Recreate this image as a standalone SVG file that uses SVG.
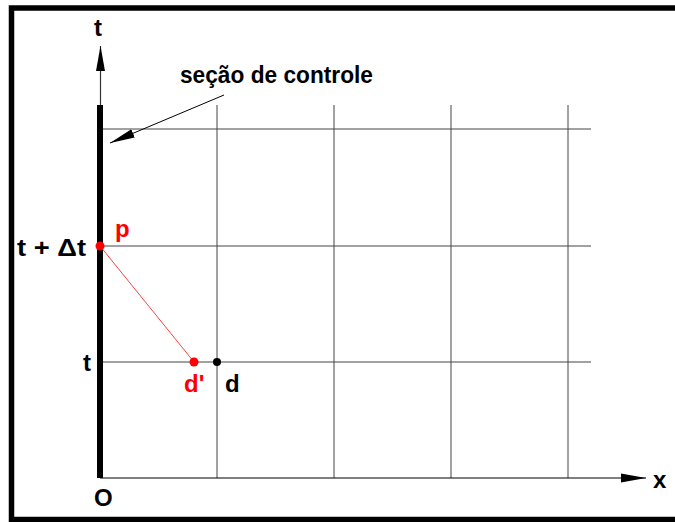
<svg xmlns="http://www.w3.org/2000/svg" width="675" height="522" viewBox="0 0 675 522">
<style>
.grid{stroke:#444;stroke-width:1;fill:none}
.lbl{font-family:"Liberation Sans",Arial,sans-serif;font-weight:bold;fill:#000;font-size:24px}
.red{fill:#ff0000}
</style>
<defs>
<marker id="ah" markerWidth="26" markerHeight="10" refX="25" refY="5" orient="auto" markerUnits="userSpaceOnUse">
<path d="M0,0.5 L25,5 L0,9.5 Z" fill="#000"/>
</marker>
</defs>
<rect x="0" y="0" width="675" height="522" fill="#fff"/>
<rect id="frame" x="11.5" y="8" width="700" height="511.5" fill="none" stroke="#000" stroke-width="5.5"/>
<g id="grid" class="grid">
<line x1="100" y1="129" x2="591" y2="129"/>
<line x1="100" y1="246" x2="591" y2="246"/>
<line x1="100" y1="362" x2="591" y2="362"/>
<line x1="217" y1="105" x2="217" y2="478"/>
<line x1="334" y1="105" x2="334" y2="478"/>
<line x1="451" y1="105" x2="451" y2="478"/>
<line x1="568" y1="105" x2="568" y2="478"/>
</g>
<g id="connectors">
<line id="t-axis" x1="100.5" y1="105" x2="100.5" y2="46" stroke="#333" stroke-width="1.2" marker-end="url(#ah)"/>
<line id="x-axis" x1="100" y1="478" x2="646" y2="478" stroke="#000" stroke-width="1.2" marker-end="url(#ah)"/>
<line id="leader" x1="224" y1="95" x2="110" y2="143" stroke="#000" stroke-width="1" marker-end="url(#ah)"/>
<line id="pd" x1="100" y1="246" x2="194" y2="362" stroke="#ff4040" stroke-width="1"/>
</g>
<g id="control-section">
<rect x="97" y="105" width="6" height="373" fill="#000"/>
</g>
<g id="node-p"><circle cx="100" cy="246" r="4.5" fill="#ff0000"/><text class="lbl red" x="115" y="237">p</text></g>
<g id="node-dprime"><circle cx="194" cy="362" r="4.5" fill="#ff0000"/><text class="lbl red" x="184" y="392">d'</text></g>
<g id="node-d"><circle cx="217" cy="362" r="4" fill="#000"/><text class="lbl" x="225" y="392">d</text></g>
<g id="labels">
<text class="lbl" x="94" y="36">t</text>
<text class="lbl" x="180" y="83" font-size="23" textLength="193" lengthAdjust="spacingAndGlyphs">seção de controle</text>
<text class="lbl" x="17" y="256" textLength="69" lengthAdjust="spacingAndGlyphs">t + Δt</text>
<text class="lbl" x="83" y="371">t</text>
<text class="lbl" x="94" y="506">O</text>
<text class="lbl" x="653" y="488">x</text>
</g>
</svg>
